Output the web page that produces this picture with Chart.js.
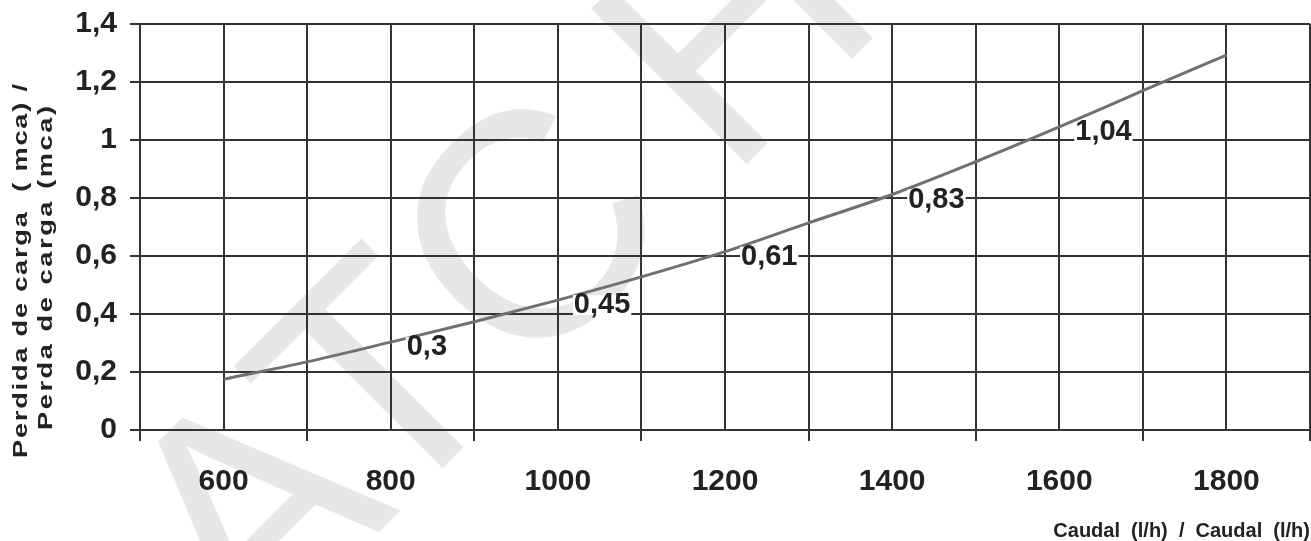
<!DOCTYPE html>
<html>
<head>
<meta charset="utf-8">
<script src="https://cdn.jsdelivr.net/npm/chart.js@4"></script>
<style>
  html, body { margin: 0; padding: 0; background: #fff; }
  #wrap { width: 1311px; height: 541px; position: relative; }
</style>
</head>
<body>
<div id="wrap"><canvas id="chart"></canvas></div>
<script>
// flow (l/h) and head loss (mca)
const flows = [600, 700, 800, 900, 1000, 1100, 1200, 1300, 1400, 1500, 1600, 1700, 1800];
const losses = [0.175, 0.235, 0.303, 0.373, 0.448, 0.528, 0.615, 0.714, 0.812, 0.925, 1.045, 1.17, 1.293];

// values printed next to the curve
const markFlows = [800, 1000, 1200, 1400, 1600];
const markTexts = ['0,3', '0,45', '0,61', '0,83', '1,04'];

const xTitle = 'Caudal  (l/h)  /  Caudal  (l/h)';
const yTitleLines = ['Perdida de carga  ( mca) /', 'Perda de carga (mca)'];
const watermark = 'ATCH';

const FONT = '"Liberation Sans", Arial, Helvetica, sans-serif';
const INK = '#222';
const GRID = '#333';

// big grey letters behind everything
const watermarkPlugin = {
    id: 'watermark',
    beforeDraw(chart) {
        const ctx = chart.ctx;
        ctx.save();
        ctx.font = '320px ' + FONT;
        ctx.fillStyle = '#e7e7e7';
        const head = watermark.slice(0, 3);
        const before = ctx.measureText(head.slice(0, 2)).width;
        const cw = ctx.measureText(head[2]).width;
        ctx.translate(523, 226);
        ctx.rotate(-Math.PI / 4);
        ctx.textBaseline = 'alphabetic';
        const x0 = -(before + cw / 2);
        const y0 = 0.358 * 320;
        ctx.fillText(head, x0, y0);
        // last letter sits a little further off
        ctx.fillText(watermark.slice(3), x0 + ctx.measureText(head).width + 60, y0);
        ctx.restore();
    }
};

// value labels on the curve, on a white patch
const markPlugin = {
    id: 'marks',
    afterDatasetsDraw(chart) {
        const ctx = chart.ctx;
        const xs = chart.scales.x, ys = chart.scales.y;
        ctx.save();
        ctx.font = 'bold 29px ' + FONT;
        ctx.textBaseline = 'middle';
        ctx.textAlign = 'left';
        markFlows.forEach((f, i) => {
            const idx = flows.indexOf(f);
            const px = xs.getPixelForValue(f) + 16;
            const py = ys.getPixelForValue(losses[idx]) + 5;
            const w = ctx.measureText(markTexts[i]).width;
            ctx.fillStyle = '#fff';
            ctx.fillRect(px - 1, py - 10, w + 2, 20);
            ctx.fillStyle = INK;
            ctx.fillText(markTexts[i], px, py);
        });
        ctx.restore();
    }
};

// axis titles placed by hand
const titlePlugin = {
    id: 'titles',
    afterDraw(chart) {
        const ctx = chart.ctx;
        ctx.save();
        ctx.fillStyle = INK;
        ctx.font = 'bold 20px ' + FONT;
        ctx.textAlign = 'right';
        ctx.textBaseline = 'alphabetic';
        ctx.fillText(xTitle, 1310, 537);

        // the y title runs long in the original: stretch it a bit and spread the rest
        const stretch = 1.3;
        ctx.font = 'bold 21px ' + FONT;
        ctx.textAlign = 'left';
        const starts = [[27, 458, 374], [52, 430, 324]];
        yTitleLines.forEach((line, i) => {
            const natural = ctx.measureText(line).width * stretch;
            ctx.save();
            ctx.translate(starts[i][0], starts[i][1]);
            ctx.rotate(-Math.PI / 2);
            ctx.scale(stretch, 1);
            const gap = Math.max(0, (starts[i][2] - natural) / (line.length - 1) / stretch);
            ctx.letterSpacing = gap.toFixed(2) + 'px';
            ctx.fillText(line, 0, 0);
            ctx.restore();
        });
        ctx.restore();
    }
};

const points = flows.map((f, i) => ({ x: f, y: losses[i] }));

new Chart(document.getElementById('chart'), {
    type: 'line',
    data: {
        datasets: [{
            data: points,
            borderColor: '#707070',
            borderWidth: 3,
            pointRadius: 0,
            tension: 0.4,
            cubicInterpolationMode: 'monotone',
            fill: false
        }]
    },
    options: {
        responsive: true,
        maintainAspectRatio: false,
        animation: false,
        layout: { padding: { top: 24, right: 1, left: 0, bottom: 0 } },
        plugins: {
            legend: { display: false },
            tooltip: { enabled: false }
        },
        scales: {
            x: {
                type: 'linear',
                min: 500,
                max: 1900,
                afterFit: (s) => { s.height = 111; s.paddingLeft = 0; s.paddingRight = 0; },
                border: { display: true, color: GRID, width: 2 },
                grid: {
                    color: GRID,
                    lineWidth: 2,
                    tickLength: 11,
                    tickColor: (c) => (c.tick && c.tick.value % 200 === 0 ? 'rgba(0,0,0,0)' : GRID)
                },
                ticks: {
                    stepSize: 100,
                    autoSkip: false,
                    maxRotation: 0,
                    padding: 23,
                    color: INK,
                    font: { family: FONT, size: 30, weight: 'bold' },
                    callback: (v) => (v % 200 === 0 ? String(v) : '')
                }
            },
            y: {
                min: 0,
                max: 1.4,
                afterFit: (s) => { s.width = 140; s.paddingTop = 0; s.paddingBottom = 0; },
                border: { display: true, color: GRID, width: 2 },
                grid: { color: GRID, lineWidth: 2, tickLength: 10 },
                ticks: {
                    stepSize: 0.2,
                    padding: 13,
                    color: INK,
                    font: { family: FONT, size: 30, weight: 'bold' },
                    callback: (v) => String(Number(v.toFixed(1))).replace('.', ',')
                }
            }
        }
    },
    plugins: [watermarkPlugin, markPlugin, titlePlugin]
});
</script>
</body>
</html>
